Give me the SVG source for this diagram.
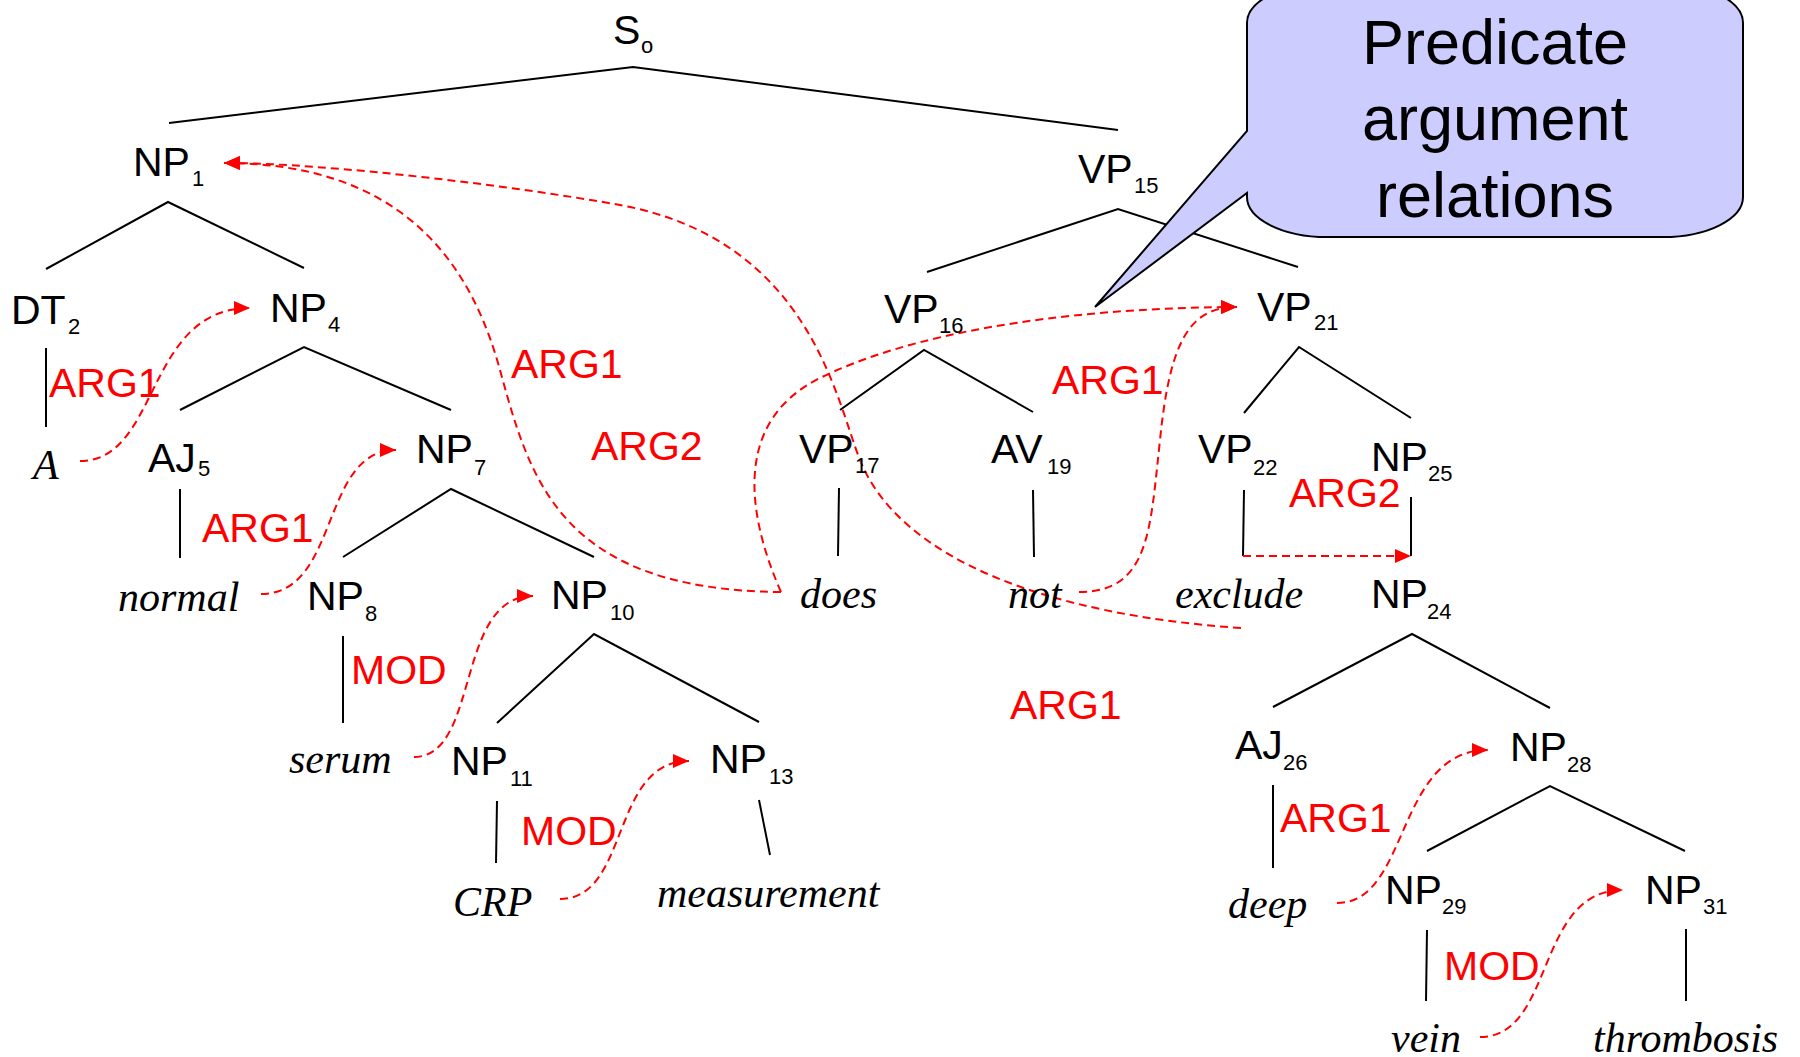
<svg xmlns="http://www.w3.org/2000/svg" width="1800" height="1057" viewBox="0 0 1800 1057">
<style>
.t{font-family:"Liberation Sans",Arial,sans-serif;font-size:41px;fill:#000}
.s{font-family:"Liberation Sans",Arial,sans-serif;font-size:22px;fill:#000}
.w{font-family:"Liberation Serif","Times New Roman",serif;font-style:italic;font-size:42px;fill:#000}
.r{font-family:"Liberation Sans",Arial,sans-serif;font-size:41px;fill:#f00}
.c{font-family:"Liberation Sans",Arial,sans-serif;font-size:63px;fill:#000;text-anchor:middle}
.e{stroke:#000;stroke-width:2;fill:none}
.d{stroke:#f00;stroke-width:2;fill:none;stroke-dasharray:8 5;marker-end:url(#ah)}
</style>
<defs>
<marker id="ah" markerUnits="userSpaceOnUse" markerWidth="16" markerHeight="14" refX="16" refY="7" orient="auto" viewBox="0 0 16 14">
<path d="M0,0 L16,7 L0,14 Z" fill="#f00"/>
</marker>
</defs>
<rect width="1800" height="1057" fill="#fff"/>
<g id="tree-edges">
<path class="e" d="M169,123 L633,67 L1118,130"/>
<path class="e" d="M46,269 L168,202 L304,268"/>
<path class="e" d="M180,410 L304,347 L451,410"/>
<path class="e" d="M343,557 L451,489 L594,557"/>
<path class="e" d="M497,723 L594,634 L759,722"/>
<path class="e" d="M46,348 L46,427"/>
<path class="e" d="M180,489 L180,558"/>
<path class="e" d="M343,636 L343,723"/>
<path class="e" d="M497,801 L496,863"/>
<path class="e" d="M759,800 L770,855"/>
<path class="e" d="M927,272 L1118,209 L1298,267"/>
<path class="e" d="M840,410 L924,350 L1033,412"/>
<path class="e" d="M1244,413 L1299,347 L1411,418"/>
<path class="e" d="M839,488 L838,556"/>
<path class="e" d="M1033,490 L1034,557"/>
<path class="e" d="M1244,490 L1243,556"/>
<path class="e" d="M1411,497 L1411,556"/>
<path class="e" d="M1273,707 L1412,634 L1550,708"/>
<path class="e" d="M1427,851 L1550,786 L1685,851"/>
<path class="e" d="M1273,785 L1273,868"/>
<path class="e" d="M1427,930 L1426,1001"/>
<path class="e" d="M1686,929 L1686,1001"/>
</g>
<g id="callout">
<path d="M1327,-17 H1663 A80,40 0 0 1 1743,23 V197 A80,40 0 0 1 1663,237 H1327 A80,40 0 0 1 1247,197 V193 L1095,307 L1247,131 V23 A80,40 0 0 1 1327,-17 Z" fill="#ccf" stroke="#000" stroke-width="2"/>
<text class="c" x="1495" y="64">Predicate</text>
<text class="c" x="1495" y="140">argument</text>
<text class="c" x="1495" y="217">relations</text>
</g>
<g id="relations">
<path class="d" d="M80,461 C160,461 145,308 250,308"/>
<path class="d" d="M261,594 C340,594 320,450 396,450"/>
<path class="d" d="M414,757 C480,757 455,596 533,596"/>
<path class="d" d="M560,899 C630,899 610,761 689,761"/>
<path class="d" d="M1337,903 C1410,903 1395,750 1488,750"/>
<path class="d" d="M1480,1037 C1555,1037 1535,890 1623,890"/>
<path class="d" d="M1243,556 H1411"/>
<path class="d" d="M781,592 C560,590 530,480 500,370 C470,260 400,163 224,163"/>
<path class="d" d="M781,592 C745,510 735,420 820,378 S1050,308 1237,307"/>
<path class="d" d="M1241,628 C1050,615 900,560 860,460 C836,400 810,240 620,205 C520,187 330,163 224,163"/>
<path class="d" d="M1079,592 C1150,592 1150,530 1160,440 C1170,340 1190,307 1237,307"/>
</g>
<g id="labels">
<text class="r" x="49" y="397">ARG1</text>
<text class="r" x="511" y="378">ARG1</text>
<text class="r" x="591" y="460">ARG2</text>
<text class="r" x="202" y="542">ARG1</text>
<text class="r" x="351" y="684">MOD</text>
<text class="r" x="521" y="845">MOD</text>
<text class="r" x="1052" y="394">ARG1</text>
<text class="r" x="1289" y="507">ARG2</text>
<text class="r" x="1010" y="719">ARG1</text>
<text class="r" x="1280" y="832">ARG1</text>
<text class="r" x="1444" y="980">MOD</text>
</g>
<g id="S0"><text class="t" x="613" y="44">S</text><text class="s" x="641" y="53">o</text></g>
<g id="NP1"><text class="t" x="133" y="176">NP</text><text class="s" x="192" y="186">1</text></g>
<g id="VP15"><text class="t" x="1078" y="183">VP</text><text class="s" x="1134" y="193">15</text></g>
<g id="DT2"><text class="t" x="11" y="324">DT</text><text class="s" x="68" y="334">2</text></g>
<g id="NP4"><text class="t" x="270" y="322">NP</text><text class="s" x="328" y="332">4</text></g>
<g id="VP16"><text class="t" x="884" y="323">VP</text><text class="s" x="939" y="333">16</text></g>
<g id="VP21"><text class="t" x="1257" y="321">VP</text><text class="s" x="1314" y="330">21</text></g>
<g id="AJ5"><text class="t" x="148" y="472">AJ</text><text class="s" x="198" y="476">5</text></g>
<g id="NP7"><text class="t" x="416" y="463">NP</text><text class="s" x="474" y="475">7</text></g>
<g id="VP17"><text class="t" x="799" y="463">VP</text><text class="s" x="855" y="473">17</text></g>
<g id="AV19"><text class="t" x="991" y="463">AV</text><text class="s" x="1047" y="474">19</text></g>
<g id="VP22"><text class="t" x="1198" y="463">VP</text><text class="s" x="1253" y="475">22</text></g>
<g id="NP25"><text class="t" x="1371" y="471">NP</text><text class="s" x="1428" y="481">25</text></g>
<g id="NP8"><text class="t" x="307" y="610">NP</text><text class="s" x="365" y="621">8</text></g>
<g id="NP10"><text class="t" x="551" y="609">NP</text><text class="s" x="610" y="620">10</text></g>
<g id="NP24"><text class="t" x="1371" y="608">NP</text><text class="s" x="1427" y="619">24</text></g>
<g id="NP11"><text class="t" x="451" y="775">NP</text><text class="s" x="510" y="786">11</text></g>
<g id="NP13"><text class="t" x="710" y="773">NP</text><text class="s" x="769" y="784">13</text></g>
<g id="AJ26"><text class="t" x="1235" y="759">AJ</text><text class="s" x="1283" y="770">26</text></g>
<g id="NP28"><text class="t" x="1510" y="761">NP</text><text class="s" x="1567" y="772">28</text></g>
<g id="NP29"><text class="t" x="1385" y="904">NP</text><text class="s" x="1442" y="914">29</text></g>
<g id="NP31"><text class="t" x="1645" y="904">NP</text><text class="s" x="1703" y="914">31</text></g>
<g id="w-A"><text class="w" x="33" y="479">A</text></g>
<g id="w-normal"><text class="w" x="118" y="611">normal</text></g>
<g id="w-serum"><text class="w" x="289" y="773">serum</text></g>
<g id="w-CRP"><text class="w" x="453" y="916">CRP</text></g>
<g id="w-measurement"><text class="w" x="657" y="907">measurement</text></g>
<g id="w-does"><text class="w" x="800" y="608">does</text></g>
<g id="w-not"><text class="w" x="1008" y="608">not</text></g>
<g id="w-exclude"><text class="w" x="1175" y="608">exclude</text></g>
<g id="w-deep"><text class="w" x="1228" y="918">deep</text></g>
<g id="w-vein"><text class="w" x="1391" y="1052">vein</text></g>
<g id="w-thrombosis"><text class="w" x="1593" y="1052">thrombosis</text></g>
</svg>
